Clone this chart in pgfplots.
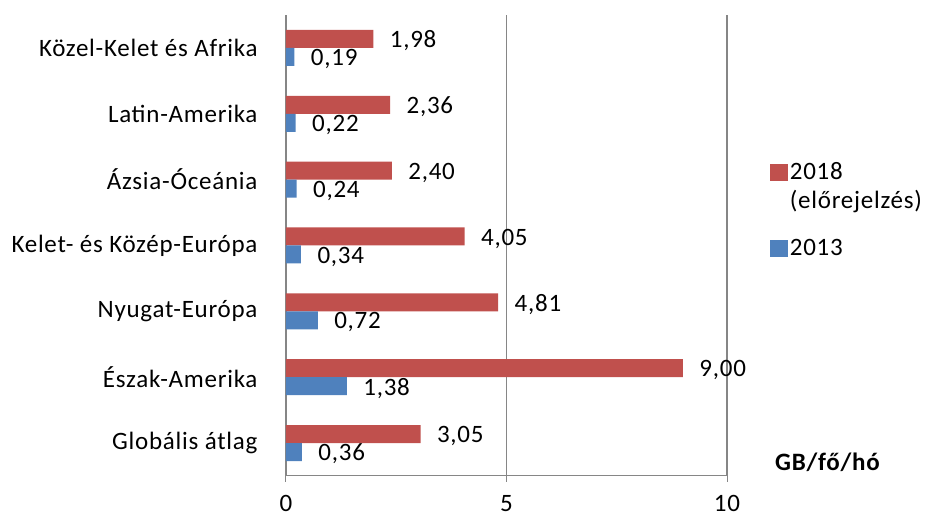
\documentclass[border=0pt]{standalone}
\usepackage{pgfplots}
\pgfplotsset{compat=1.18}
\usepackage{fontspec}
\setmainfont{Carlito}[LetterSpace=3]
\definecolor{barred}{HTML}{C0504D}
\definecolor{barblue}{HTML}{4F81BD}
\definecolor{axgray}{HTML}{868686}

% GB per person per month, bottom category first
\pgfplotstableread{
y  v2018 v2013
0  3.05  0.36
1  9.00  1.38
2  4.81  0.72
3  4.05  0.34
4  2.40  0.24
5  2.36  0.22
6  1.98  0.19
}\traffic

\begin{document}
\fontsize{25}{29}\selectfont
\begin{tikzpicture}
\useasboundingbox (0,0) rectangle (927pt,518pt);
\begin{axis}[
  at={(286pt,42pt)}, anchor=south west,
  scale only axis, width=441pt, height=461pt,
  xbar, bar width=18pt,
  xmin=0, xmax=10, ymin=-0.5, ymax=6.5,
  clip=false,
  axis lines*=left, axis line style={axgray, line width=1pt, -},
  xtick={0,5,10}, xmajorgrids, grid style={axgray, line width=1.2pt},
  xtick style={axgray, line width=1pt},
  ytick={0,...,6},
  yticklabels={Globális átlag, Észak-Amerika, Nyugat-Európa, Kelet- és Közép-Európa, Ázsia-Óceánia, Latin-Amerika, Közel-Kelet és Afrika},
  ytick style={draw=none},
  minor ytick={-0.5,0.5,...,6.5},
  minor tick style={axgray, line width=1pt},
  minor tick length=8pt,
  tick align=outside, major tick length=6pt,
  yticklabel style={xshift=-14pt},
  xticklabel style={inner sep=0pt, yshift=-13pt},
  /pgf/number format/assume math mode=true,
  nodes near coords={\pgfmathprintnumber[fixed,fixed zerofill,precision=2,use comma]{\pgfplotspointmeta}},
  nodes near coords style={anchor=west, xshift=8pt, yshift=-2pt, text=black},
  legend style={draw=none, fill=none, at={(1.09,0.69)}, anchor=north west,
    cells={anchor=west, align=left}, row sep=23pt},
  legend image code/.code={\fill[#1] (0pt,-8pt) rectangle (18pt,9pt);},
]
\addplot[fill=barred, draw=none, bar shift=9pt,
  legend image code/.code={\fill[barred] (0pt,6pt) rectangle (18pt,23pt);}]
  table[x=v2018, y=y] {\traffic};
\addlegendentry{2018\\(előrejelzés)}
\addplot[fill=barblue, draw=none, bar shift=-9pt] table[x=v2013, y=y] {\traffic};
\addlegendentry{2013}
\node[font=\bfseries, anchor=west] at (rel axis cs:1.09,0.03) {GB/fő/hó};
\end{axis}
\end{tikzpicture}
\end{document}
